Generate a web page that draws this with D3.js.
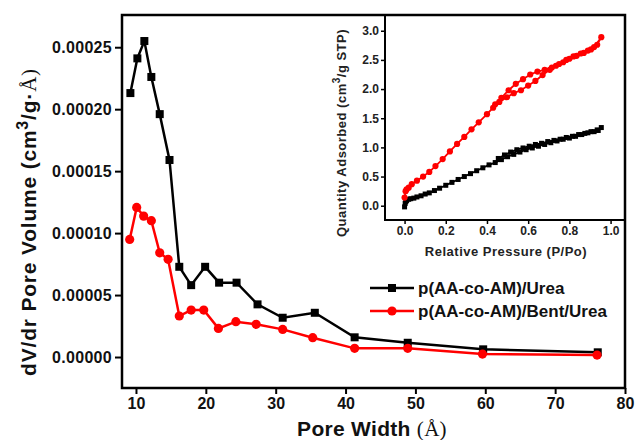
<!DOCTYPE html>
<html><head><meta charset="utf-8">
<script src="https://cdn.jsdelivr.net/npm/d3@7/dist/d3.min.js"></script>
<style>body{margin:0;background:#fff}svg{display:block}text{font-family:"Liberation Sans",Arial,sans-serif;font-weight:bold}</style>
</head><body><svg id="c" width="636" height="440"></svg>
<script>
// ---- main chart data (pore width in Å, dV/dr) ----
const poreWidth1 = [9.2,10.2,11.2,12.2,13.4,14.8,16.2,17.9,19.9,21.9,24.4,27.4,31.0,35.6,41.3,48.9,59.7,76.1];
const poreVol1 = [0.000213,0.000241,0.000255,0.000226,0.000196,0.000159,0.0000728,0.000058,0.0000728,0.00006,0.00006,0.0000425,0.0000317,0.0000357,0.0000159,0.0000115,0.0000062,0.0000038];
const poreWidth2 = [9.1,10.1,11.1,12.2,13.4,14.6,16.2,17.9,19.7,21.8,24.3,27.2,31.0,35.3,41.3,48.9,59.6,76.0];
const poreVol2 = [0.0000949,0.0001207,0.0001137,0.00011,0.0000841,0.0000788,0.0000331,0.0000379,0.0000379,0.0000231,0.0000285,0.0000264,0.0000223,0.0000156,0.000007,0.000007,0.0000024,0.0000016];
const seriesNames = ["p(AA-co-AM)/Urea","p(AA-co-AM)/Bent/Urea"];
const xTicks = [10,20,30,40,50,60,70,80];
const yTicks = [0,0.00005,0.0001,0.00015,0.0002,0.00025];
const yTickLabels = ["0.00000","0.00005","0.00010","0.00015","0.00020","0.00025"];

// ---- inset isotherm data (P/Po, quantity adsorbed) ----
const blackP = [0,0.003,0.006,0.01,0.02,0.03,0.045,0.06,0.08,0.10,0.12,0.145,0.17,0.2,0.23,0.26,0.29,0.32,0.35,0.38,0.41,0.44,0.47,0.5,0.53,0.56,0.59,0.62,0.65,0.68,0.71,0.74,0.77,0.8,0.83,0.86,0.89,0.92,0.94,0.955,0.935,0.905,0.875,0.845,0.815,0.785,0.755,0.725,0.695,0.665,0.635,0.605,0.575,0.545,0.515,0.485,0.455];
const blackQ = [-0.02,0.04,0.07,0.09,0.11,0.12,0.13,0.15,0.17,0.2,0.22,0.26,0.3,0.35,0.4,0.45,0.5,0.55,0.6,0.65,0.7,0.74,0.79,0.84,0.88,0.92,0.96,0.99,1.02,1.05,1.08,1.11,1.14,1.16,1.19,1.22,1.25,1.27,1.29,1.34,1.3,1.27,1.24,1.22,1.19,1.17,1.14,1.12,1.1,1.07,1.05,1.02,0.99,0.96,0.92,0.87,0.81];
const redP = [0,0.005,0.01,0.02,0.035,0.06,0.09,0.12,0.15,0.185,0.22,0.255,0.29,0.325,0.36,0.40,0.43,0.46,0.497,0.53,0.565,0.60,0.635,0.67,0.705,0.735,0.77,0.80,0.835,0.87,0.905,0.935,0.955,0.92,0.89,0.855,0.82,0.785,0.75,0.715,0.68,0.645,0.61,0.575,0.54,0.505,0.47,0.44];
const redQ = [0.14,0.25,0.28,0.31,0.37,0.43,0.50,0.58,0.68,0.80,0.93,1.06,1.18,1.31,1.43,1.57,1.68,1.78,1.86,1.93,1.98,2.06,2.14,2.24,2.33,2.40,2.46,2.52,2.57,2.62,2.68,2.76,2.89,2.72,2.66,2.61,2.56,2.50,2.43,2.37,2.33,2.30,2.25,2.17,2.09,1.98,1.85,1.74];
const insetXTicks = [0,0.2,0.4,0.6,0.8,1.0];
const insetYTicks = [0,0.5,1.0,1.5,2.0,2.5,3.0];

const svg = d3.select("#c");
const L=122, R=625, T=15, B=388;
const x = d3.scaleLinear().domain([8,80]).range([L,R]);
const y = d3.scaleLinear().domain([-0.000025,0.000276]).range([B,T]);

// main axes
const gx = svg.append("g").attr("transform",`translate(0,${B})`)
  .call(d3.axisBottom(x).tickValues(xTicks).tickSize(6).tickPadding(4));
const gy = svg.append("g").attr("transform",`translate(${L},0)`)
  .call(d3.axisLeft(y).tickValues(yTicks).tickFormat((d,i)=>yTickLabels[i]).tickSize(7).tickPadding(3));
[gx,gy].forEach(g=>{g.select(".domain").remove();g.selectAll("line").attr("stroke","#000").attr("stroke-width",2);
  g.selectAll("text").attr("font-size",16).attr("font-family","Liberation Sans, Arial").attr("font-weight","bold").attr("fill","#111");});
gy.selectAll("text").attr("letter-spacing",0.3);

// lines main
const line = d3.line().x(d=>x(d[0])).y(d=>y(d[1]));
const d1 = poreWidth1.map((v,i)=>[v,poreVol1[i]]);
const d2 = poreWidth2.map((v,i)=>[v,poreVol2[i]]);
svg.append("path").attr("d",line(d1)).attr("fill","none").attr("stroke","#000").attr("stroke-width",2.5);
svg.append("path").attr("d",line(d2)).attr("fill","none").attr("stroke","#f00").attr("stroke-width",2.5);
svg.selectAll(".sq").data(d1).enter().append("rect").attr("x",d=>x(d[0])-4).attr("y",d=>y(d[1])-4).attr("width",8).attr("height",8).attr("fill","#000");
svg.selectAll(".ci").data(d2).enter().append("circle").attr("cx",d=>x(d[0])).attr("cy",d=>y(d[1])).attr("r",4.6).attr("fill","#f00");

// inset
const iL=385, iR=625, iT=15, iB=220;
const ix = d3.scaleLinear().domain([-0.095,1.07]).range([iL,iR]);
const iy = d3.scaleLinear().domain([-0.245,3.27]).range([iB,iT]);
svg.append("rect").attr("x",iL).attr("y",iT).attr("width",iR-iL).attr("height",iB-iT).attr("fill","#fff");
const igx = svg.append("g").attr("transform",`translate(0,${iB})`)
  .call(d3.axisBottom(ix).tickValues(insetXTicks).tickFormat(d3.format(".1f")).tickSize(4).tickPadding(2));
const igy = svg.append("g").attr("transform",`translate(${iL},0)`)
  .call(d3.axisLeft(iy).tickValues(insetYTicks).tickFormat(d3.format(".1f")).tickSize(4).tickPadding(2));
[igx,igy].forEach(g=>{g.select(".domain").remove();g.selectAll("line").attr("stroke","#000").attr("stroke-width",1.5);
  g.selectAll("text").attr("font-size",12).attr("font-family","Liberation Sans, Arial").attr("font-weight","bold").attr("fill","#222");});
const iline = d3.line().x(d=>ix(d[0])).y(d=>iy(d[1]));
const bI = blackP.map((v,i)=>[v,blackQ[i]]);
const rI = redP.map((v,i)=>[v,redQ[i]]);
svg.append("path").attr("d",iline(bI)).attr("fill","none").attr("stroke","#000").attr("stroke-width",1.8);
svg.selectAll(".isq").data(bI).enter().append("rect").attr("x",d=>ix(d[0])-2.5).attr("y",d=>iy(d[1])-2.5).attr("width",5).attr("height",5).attr("fill","#000");
svg.append("path").attr("d",iline(rI)).attr("fill","none").attr("stroke","#f00").attr("stroke-width",1.8);
svg.selectAll(".ici").data(rI).enter().append("circle").attr("cx",d=>ix(d[0])).attr("cy",d=>iy(d[1])).attr("r",3.1).attr("fill","#f00");
svg.append("rect").attr("x",iL).attr("y",iT).attr("width",iR-iL).attr("height",iB-iT).attr("fill","none").attr("stroke","#000").attr("stroke-width",2);
svg.append("text").attr("x",506).attr("y",256).attr("text-anchor","middle").attr("font-size",13).attr("letter-spacing",0.5).attr("fill","#222").text("Relative Pressure (P/Po)");
const iyl = svg.append("text").attr("transform","translate(346,133) rotate(-90)").attr("text-anchor","middle").attr("font-size",13).attr("letter-spacing",0.5).attr("fill","#222");
iyl.append("tspan").text("Quantity Adsorbed (cm");
iyl.append("tspan").attr("dy",-6).attr("font-size",10).text("3");
iyl.append("tspan").attr("dy",6).text("/g STP)");

// main frame
svg.append("rect").attr("x",L).attr("y",T).attr("width",R-L).attr("height",B-T).attr("fill","none").attr("stroke","#000").attr("stroke-width",2.5);

// legend
const leg = [[d1,"#000"],[d2,"#f00"]];
leg.forEach((l,i)=>{
  const ly = 288 + i*23;
  svg.append("line").attr("x1",370).attr("x2",414).attr("y1",ly).attr("y2",ly).attr("stroke",l[1]).attr("stroke-width",2.5);
  if(i===0) svg.append("rect").attr("x",388).attr("y",ly-4).attr("width",8).attr("height",8).attr("fill","#000");
  else svg.append("circle").attr("cx",392).attr("cy",ly).attr("r",4.6).attr("fill","#f00");
  svg.append("text").attr("x",418).attr("y",ly+6).attr("font-size",17).attr("fill","#111").text(seriesNames[i]);
});

// axis titles
const xt = svg.append("text").attr("x",372).attr("y",436).attr("text-anchor","middle").attr("font-size",21).attr("letter-spacing",0.3).attr("fill","#111");
xt.append("tspan").text("Pore Width ");
xt.append("tspan").attr("font-family","Liberation Serif, Times New Roman, serif").attr("font-weight","normal").text("(Å)");
const yt = svg.append("text").attr("transform","translate(36,222) rotate(-90)").attr("text-anchor","middle").attr("font-size",21).attr("letter-spacing",0.8).attr("fill","#111");
yt.append("tspan").text("dV/dr Pore Volume (cm");
yt.append("tspan").attr("dy",-8).attr("font-size",16).text("3");
yt.append("tspan").attr("dy",8).text("/g·");
yt.append("tspan").attr("font-family","Liberation Serif, Times New Roman, serif").attr("font-weight","normal").text("Å)");
</script></body></html>
